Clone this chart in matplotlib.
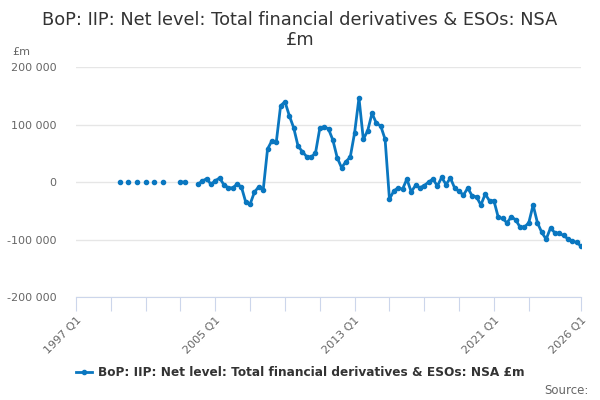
import matplotlib
matplotlib.use('Agg')
import matplotlib.pyplot as plt
import numpy as np

# quarterly series, 1997 Q1 .. 2026 Q1 (index 0..116), NaN = no value
start_year = 1997
n_quarters = 117

# early isolated observations (quarter index -> value, £m)
early_idx = [10, 12, 14, 16, 18, 20, 24, 25]
early_vals = [0, 0, 0, 0, 0, 0, 0, 0]

# continuous run from 2004 Q1 (index 28) to 2026 Q1
run_start = 28
run_vals = [
    -4000, 1700, 5700, -4000, 2300, 7000, -5200, -9900,
    -10400, -3500, -8700, -35300, -38300, -17400, -8200, -13900,
    57400, 71800, 69000, 132700, 139600, 115300, 94400, 62600,
    52700, 44000, 43500, 49900, 93400, 96200, 92200, 73000,
    42300, 24900, 35300, 43500, 85700, 146100, 74300, 89200,
    119500, 102100, 97400, 74300, -29700, -15700, -9900, -12700,
    5200, -17000, -5900, -9900, -6100, 0, 5200, -7000,
    8000, -4400, 7000, -10900, -16100, -22700, -10400, -24400,
    -25700, -40100, -20900, -33100, -32600, -61600, -63400, -71000,
    -60500, -65800, -78500, -78500, -71000, -40100, -71000, -87800,
    -99500, -79800, -88500, -89500, -93000, -98800, -102800, -105100,
    -111500,
]

tick_idx = list(range(0, 105, 8)) + [116]
label_idx = [0, 32, 64, 96, 116]

yticks = [-200000, -100000, 0, 100000, 200000]

title = 'BoP: IIP: Net level: Total financial derivatives & ESOs: NSA\n£m'
series_name = 'BoP: IIP: Net level: Total financial derivatives & ESOs: NSA £m'
line_col = '#0a77c0'


def qlabel(i):
    return '%d Q%d' % (start_year + i // 4, i % 4 + 1)


values = np.full(n_quarters, np.nan)
values[early_idx] = early_vals
values[run_start:run_start + len(run_vals)] = run_vals
x = np.arange(n_quarters)

plt.rcParams['font.family'] = ['DejaVu Sans']
fig = plt.figure(figsize=(6, 4), dpi=100)
ax = fig.add_axes([76 / 600, 1 - 297 / 400, (581 - 76) / 600, (297 - 67) / 400])

ax.plot(x, values, color=line_col, lw=2, marker='o', ms=3, zorder=3,
        label=series_name)

ax.set_xlim(0, 116)
ax.set_ylim(-200000, 200000)
ax.set_yticks(yticks)
ax.set_yticklabels(['{:,}'.format(v).replace(',', ' ') for v in yticks],
                   color='#666666', fontsize=8)
ax.yaxis.grid(True, color='#e6e6e6', lw=1)
ax.set_axisbelow(True)
ax.tick_params(axis='y', length=0, pad=14)

ax.set_xticks(tick_idx)
ax.set_xticklabels([qlabel(i) if i in label_idx else '' for i in tick_idx],
                   rotation=45, ha='right', rotation_mode='anchor',
                   color='#666666', fontsize=8)
ax.tick_params(axis='x', length=10, color='#ccd6eb', pad=3)

for s in ['top', 'right', 'left']:
    ax.spines[s].set_visible(False)
ax.spines['bottom'].set_color('#ccd6eb')

fig.text(0.5, 1 - 30 / 400, title, ha='center', va='center',
         fontsize=12.8, color='#333333', linespacing=1.2)
fig.text(12 / 600, 1 - 52 / 400, '£m', ha='left', va='center',
         fontsize=8, color='#666666')

leg = fig.legend(loc='center', bbox_to_anchor=(0.5, 1 - 373 / 400),
                 frameon=False, handlelength=1.3, handletextpad=0.5,
                 prop={'weight': 'bold', 'size': 8.7})
for t in leg.get_texts():
    t.set_color('#333333')

fig.text(589 / 600, 1 - 390 / 400, 'Source:', ha='right', va='center',
         fontsize=8.5, color='#666666')

fig.savefig('out.png', dpi=100)
